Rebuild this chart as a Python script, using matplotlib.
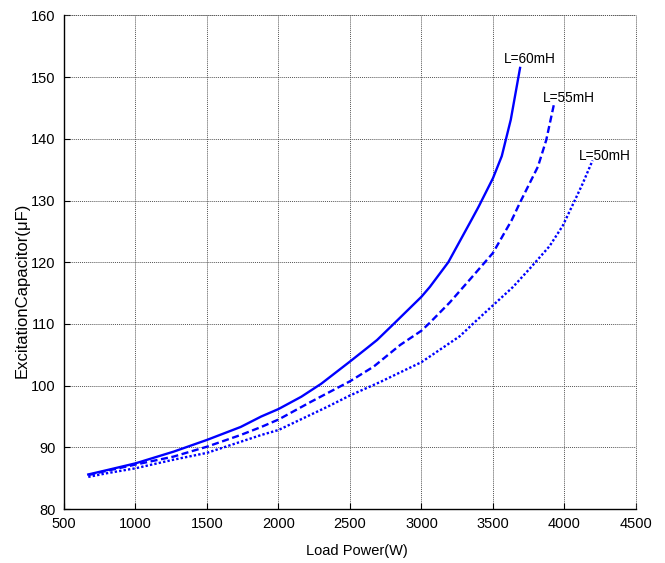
import matplotlib
matplotlib.use("Agg")
import matplotlib.pyplot as plt

# Load power (W) vs. excitation capacitance (uF) for three inductances
p60 = [670, 800, 1000, 1267, 1500, 1736, 1880, 2000, 2160, 2299, 2500, 2620, 2690,
       2806, 3000, 3059, 3188, 3351, 3400, 3500, 3562, 3625, 3690]
c60 = [85.6, 86.3, 87.4, 89.3, 91.2, 93.3, 95.0, 96.2, 98.2, 100.3, 103.9, 106.1, 107.4,
       110.0, 114.4, 116.0, 120.0, 126.9, 129.0, 133.6, 137.2, 143.1, 151.5]

p55 = [670, 800, 1000, 1267, 1500, 1736, 1880, 2000, 2229, 2500, 2667, 2852, 3000,
       3059, 3199, 3339, 3444, 3500, 3631, 3688, 3815, 3873, 3926]
c55 = [85.5, 86.2, 87.2, 88.5, 90.1, 92.0, 93.3, 94.5, 97.4, 100.7, 103.1, 106.6, 108.9,
       110.2, 113.5, 117.2, 120.0, 121.5, 126.8, 129.6, 135.5, 139.8, 145.5]

p50 = [670, 800, 1000, 1267, 1500, 1736, 1880, 2000, 2345, 2500, 2713, 3000, 3268,
       3387, 3500, 3641, 3759, 3896, 3988, 4058, 4127, 4197]
c50 = [85.2, 85.8, 86.6, 88.0, 89.1, 90.9, 92.0, 92.8, 96.6, 98.4, 100.6, 103.8, 108.0,
       110.6, 113.0, 116.0, 119.0, 122.6, 125.9, 129.3, 132.7, 136.5]

curve_labels = ["L=60mH", "L=55mH", "L=50mH"]
label_pos = [(3577, 152.9), (3850, 146.7), (4101, 137.3)]

x_ticks = [500, 1000, 1500, 2000, 2500, 3000, 3500, 4000, 4500]
y_ticks = [80, 90, 100, 110, 120, 130, 140, 150, 160]

fonts = ["Liberation Sans Narrow", "Liberation Sans", "DejaVu Sans"]
plt.rcParams["font.family"] = fonts

fig = plt.figure(figsize=(6.65, 5.63), dpi=100)
ax = fig.add_axes([0.0962, 0.0959, 0.86, 0.8766])

blue = "#0000ff"
lw = 1.7
ax.plot(p60, c60, color=blue, lw=lw, linestyle="-")
ax.plot(p55, c55, color=blue, lw=lw, linestyle=(0, (3, 1.5)))
ax.plot(p50, c50, color=blue, lw=lw, linestyle=(0, (1, 0.9)))

for text, (x, y) in zip(curve_labels, label_pos):
    ax.text(x, y, text, fontsize=9.8, ha="left", va="center", color="black")

ax.set_xlim(500, 4500)
ax.set_ylim(80, 160)
ax.set_xticks(x_ticks)
ax.set_yticks(y_ticks)
ax.tick_params(direction="in", length=4, width=0.8, labelsize=10.5, pad=6,
               top=False, right=False)

grid_style = dict(color="#555555", linestyle=(0, (1, 1)), linewidth=0.7)
ax.grid(True, **grid_style)
ax.spines["top"].set_visible(False)
ax.spines["right"].set_visible(False)
ax.spines["left"].set_linewidth(1.0)
ax.spines["bottom"].set_linewidth(1.0)
# dotted frame on the open sides, like the grid
ax.axhline(160, clip_on=False, **grid_style)
ax.axvline(4500, clip_on=False, **grid_style)

fig.text(357 / 665, 1 - 551 / 563, "Load Power(W)", fontsize=10.5,
         ha="center", va="center")
fig.text(22 / 665, 1 - 290 / 563, "ExcitationCapacitor(\u03bcF)", fontsize=12,
         ha="center", va="center", rotation=90,
         family=["Liberation Sans", "DejaVu Sans"])

fig.savefig("out.png", dpi=100)
